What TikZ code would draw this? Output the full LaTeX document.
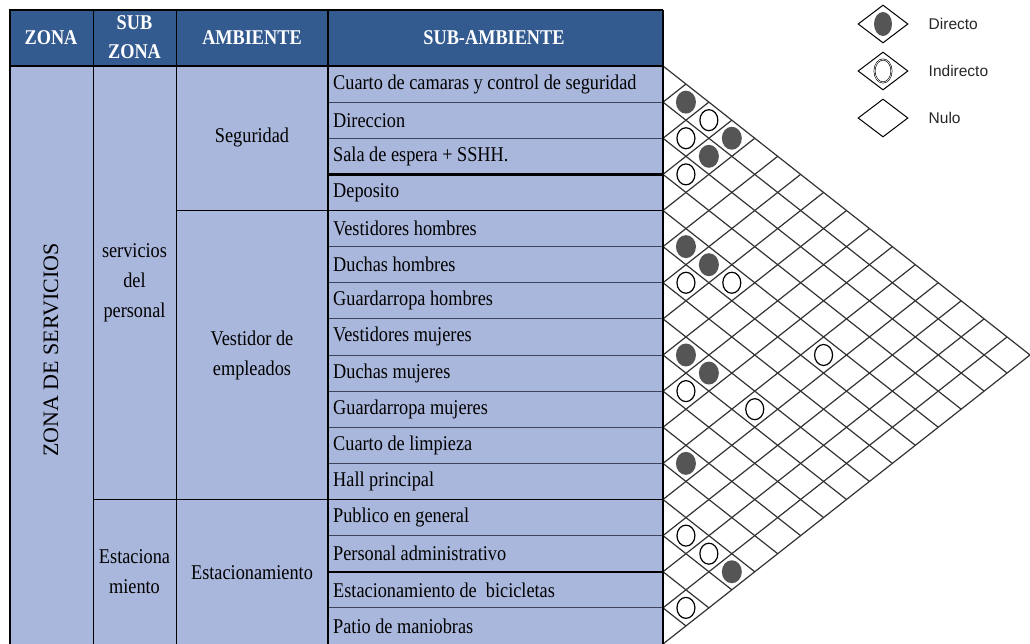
\documentclass[tikz,border=0pt]{standalone}
\usepackage{fontspec}
\setmainfont{Liberation Serif}
\newfontfamily\cellfont[FakeStretch=0.87]{Liberation Serif}
\newfontfamily\legfont{Liberation Sans}
\usetikzlibrary{positioning,shapes.geometric}
\definecolor{HeadBlue}{RGB}{52,91,143}
\definecolor{CellBlue}{RGB}{170,183,220}
\definecolor{RowLine}{RGB}{62,68,96}
\definecolor{MarkGray}{RGB}{85,85,85}
\def\hw{22.9375}
\def\rh{36.125}

\begin{document}
\begin{tikzpicture}[x=1pt,y=-1pt,
  head/.style={text=white,font=\cellfont\fontsize{21}{29}\selectfont\bfseries,align=center},
  cell/.style={font=\cellfont\fontsize{21}{30}\selectfont,align=center},
  subamb/.style={font=\cellfont\fontsize{21}{23}\selectfont,anchor=west,inner sep=0pt},
  gridline/.style={draw=black!80,line width=1.2pt},
  directo/.style={ellipse,fill=MarkGray,minimum width=20pt,minimum height=23pt,inner sep=0pt},
  indirecto/.style={ellipse,draw,line width=1.2pt,fill=white,minimum width=18pt,minimum height=21pt,inner sep=0pt},
  legdiam/.style={diamond,draw,line width=1pt,minimum width=50pt,minimum height=38pt,inner sep=0pt},
  legtext/.style={font=\legfont\fontsize{15.5}{17}\selectfont,text=black!85,inner sep=2pt}]
  \useasboundingbox (0,0) rectangle (1030,644);
  % table
  \fill[HeadBlue] (10,10) rectangle (663,66);
  \fill[CellBlue] (10,66) rectangle (663,644);
  \foreach \k in {1,...,15}
    \draw[RowLine,line width=1pt] (328,{66+\k*\rh}) -- (663,{66+\k*\rh});
  \draw[line width=2.4pt] (328,{66+3*\rh}) -- (663,{66+3*\rh});
  \draw[line width=2pt] (328,{66+14*\rh}) -- (663,{66+14*\rh});
  \draw[line width=1pt] (176,{66+4*\rh}) -- (663,{66+4*\rh});
  \draw[line width=1pt] (93,{66+12*\rh}) -- (663,{66+12*\rh});
  \draw[line width=1pt] (93,10) -- (93,644) (176,10) -- (176,644);
  \draw[line width=1.6pt] (328,10) -- (328,644);
  \draw[line width=1.2pt] (10,66) -- (663,66);
  \draw[line width=1.4pt] (10,644) -- (10,10) -- (663,10);

  \node[head] (h-zona) at (51,38) {ZONA};
  \node[head] (h-subzona) at (134.5,37) {SUB\\ZONA};
  \node[head] (h-amb) at (252,38) {AMBIENTE};
  \node[head] (h-subamb) at (494,38) {SUB-AMBIENTE};

  \node[font=\fontsize{22}{24}\selectfont,rotate=90] (zona) at (51,350) {ZONA DE SERVICIOS};
  \node[cell] (sz-pers) at (134.5,283) {servicios\\del\\personal};
  \node[cell] (sz-est) at (134.5,572) {Estaciona\\miento};
  \node[cell] (a-seg) at (252,137) {Seguridad};
  \node[cell] (a-vest) at (252,355) {Vestidor de\\empleados};
  \node[cell] (a-est) at (252,573) {Estacionamiento};

  \foreach \t [count=\i] in {Cuarto de camaras y control de seguridad,Direccion,
    Sala de espera + SSHH.,Deposito,Vestidores hombres,Duchas hombres,
    Guardarropa hombres,Vestidores mujeres,Duchas mujeres,Guardarropa mujeres,
    Cuarto de limpieza,Hall principal,Publico en general,Personal administrativo,
    Estacionamiento de\ \ bicicletas,Patio de maniobras}
    \node[subamb] (s-\i) at (333,{66+(\i-0.5)*\rh}) {\t};

  % matriz de relaciones
  \foreach \k in {0,...,16}{
    \draw[gridline] (663,{66+\k*\rh}) -- ++({(16-\k)*\hw},{(16-\k)*\rh/2});
    \draw[gridline] (663,{66+\k*\rh}) -- ++({\k*\hw},{-\k*\rh/2});
  }
  \draw[line width=2pt] (663,10) -- (663,644);
  \foreach \i/\j/\t in {1/2/directo,1/3/indirecto,2/3/indirecto,1/4/directo,
    2/4/directo,3/4/indirecto,5/6/directo,5/7/directo,6/7/indirecto,
    5/8/indirecto,5/12/indirecto,8/9/directo,8/10/directo,9/10/indirecto,
    8/12/indirecto,11/12/directo,13/14/indirecto,13/15/indirecto,
    13/16/directo,15/16/indirecto}
    \node[\t] (m-\i-\j) at ({663+(\j-\i)*\hw},{66+((\i+\j)/2-0.5)*\rh}) {};

  % leyenda
  \node[legdiam] (l-dir) at (883,24) {};
  \node[directo,minimum width=18pt,minimum height=24pt] (l-dir-m) at (l-dir) {};
  \node[legtext,right=18pt of l-dir] (l-dir-t) {Directo};
  \node[legdiam] (l-ind) at (883,71) {};
  \node[indirecto,line width=.6pt,double,double distance=.6pt,minimum width=17pt,minimum height=23pt] (l-ind-m) at (l-ind) {};
  \node[legtext,right=18pt of l-ind] (l-ind-t) {Indirecto};
  \node[legdiam] (l-nul) at (883,118) {};
  \node[legtext,right=18pt of l-nul] (l-nul-t) {Nulo};
\end{tikzpicture}
\end{document}
